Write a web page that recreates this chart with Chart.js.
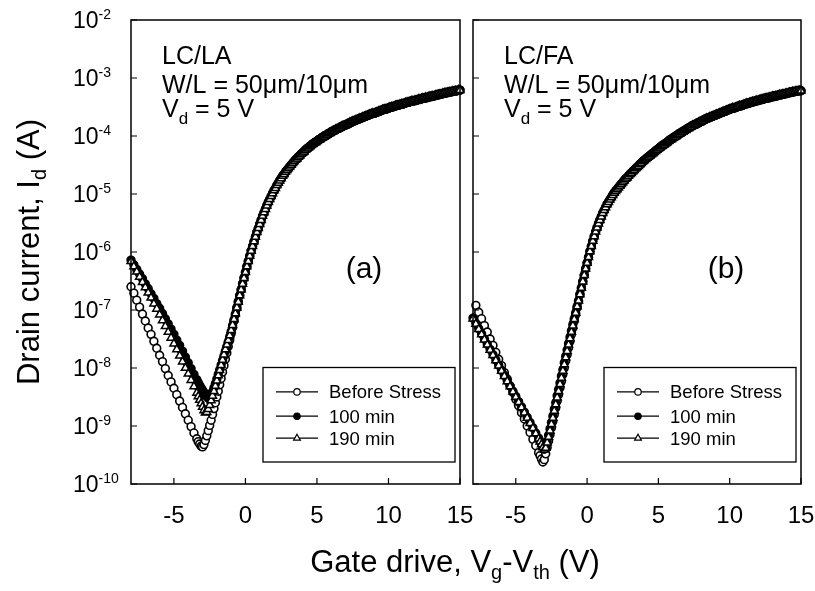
<!DOCTYPE html>
<html>
<head>
<meta charset="utf-8">
<script src="https://cdn.jsdelivr.net/npm/chart.js@4.4.1/dist/chart.umd.min.js"></script>
<style>
  body { margin: 0; background: #fff; }
  #wrap { position: relative; width: 815px; height: 591px; }
  #wrap canvas { position: absolute; left: 0; top: 0; }
</style>
</head>
<body>
<div id="wrap">
  <canvas id="chartA" width="815" height="591"></canvas>
  <canvas id="chartB" width="815" height="591"></canvas>
</div>
<script>
const FONT = '"Liberation Sans", Arial, sans-serif';

const seriesNames = ['Before Stress', '100 min', '190 min'];
const xTicks = [-5, 0, 5, 10, 15];
const yTickExps = [-10, -9, -8, -7, -6, -5, -4, -3, -2];

// gate drive grid where the three curves differ, then the shared on-state part
const vgSub = [-8.0, -7.8, -7.6, -7.4, -7.2, -7.0, -6.8, -6.6, -6.4, -6.2, -6.0, -5.8, -5.6, -5.4, -5.2, -5.0,
  -4.8, -4.6, -4.4, -4.2, -4.0, -3.8, -3.6, -3.4,
  -3.3, -3.2, -3.1, -3.0, -2.9, -2.8, -2.7, -2.6, -2.5, -2.4, -2.3, -2.2, -2.1, -2.0, -1.9, -1.8, -1.7,
  -1.6, -1.5, -1.4, -1.3, -1.2, -1.1, -1.0, -0.9, -0.8, -0.7, -0.6, -0.5, -0.4, -0.3, -0.2, -0.1, 0.0];
const vgOn = [0.1, 0.2, 0.3, 0.4, 0.5, 0.6, 0.7, 0.8, 0.9, 1.0, 1.1, 1.2, 1.3, 1.4, 1.5, 1.6, 1.7, 1.8, 1.9, 2.0,
  2.1, 2.2, 2.3, 2.4, 2.5, 2.6, 2.7, 2.8, 2.9, 3.0, 3.1, 3.2, 3.3, 3.4, 3.5, 3.6, 3.7, 3.8, 3.9, 4.0,
  4.1, 4.2, 4.3, 4.4, 4.5, 4.6, 4.7, 4.8, 4.9, 5.0, 5.1, 5.2, 5.3, 5.4, 5.5, 5.6, 5.7, 5.8, 5.9, 6.0,
  6.1, 6.2, 6.3, 6.4, 6.5, 6.6, 6.7, 6.8, 6.9, 7.0, 7.1, 7.2, 7.3, 7.4, 7.5, 7.6, 7.7, 7.8, 7.9, 8.0,
  8.1, 8.2, 8.3, 8.4, 8.5, 8.6, 8.7, 8.8, 8.9, 9.0, 9.1, 9.2, 9.3, 9.4, 9.5, 9.6, 9.7, 9.8, 9.9, 10.0,
  10.1, 10.2, 10.3, 10.4, 10.5, 10.6, 10.7, 10.8, 10.9, 11.0, 11.1, 11.2, 11.3, 11.4, 11.5, 11.6, 11.7, 11.8, 11.9, 12.0,
  12.1, 12.2, 12.3, 12.4, 12.5, 12.6, 12.7, 12.8, 12.9, 13.0, 13.1, 13.2, 13.3, 13.4, 13.5, 13.6, 13.7, 13.8, 13.9, 14.0,
  14.1, 14.2, 14.3, 14.4, 14.5, 14.6, 14.7, 14.8, 14.9, 15.0];

// log10 of drain current (A)
// (a) LC/LA
const logBeforeA = [-6.60, -6.71, -6.83, -6.95, -7.07, -7.19, -7.31, -7.42, -7.54, -7.66, -7.78, -7.89, -8.01,
  -8.13, -8.24, -8.35, -8.46, -8.57, -8.68, -8.79, -8.90, -9.01, -9.12, -9.22,
  -9.27, -9.31, -9.35, -9.36, -9.32, -9.25, -9.17, -9.08, -8.99, -8.90, -8.80, -8.70, -8.60, -8.50, -8.40,
  -8.29, -8.18, -8.07, -7.96, -7.85, -7.74, -7.63, -7.52, -7.41, -7.30, -7.19, -7.08, -6.97, -6.86, -6.75,
  -6.65, -6.55, -6.45, -6.35];
const log100A = [-6.14, -6.22, -6.30, -6.38, -6.46, -6.55, -6.63, -6.72, -6.80, -6.89, -6.97, -7.06, -7.15,
  -7.24, -7.33, -7.42, -7.52, -7.61, -7.71, -7.81, -7.91, -8.01, -8.11, -8.20,
  -8.25, -8.30, -8.34, -8.38, -8.42, -8.46, -8.49, -8.52, -8.51, -8.47, -8.41, -8.34, -8.27, -8.19, -8.11,
  -8.03, -7.95, -7.87, -7.79, -7.71, -7.63, -7.55, -7.46, -7.37, -7.27, -7.17, -7.07, -6.96, -6.86, -6.75,
  -6.65, -6.55, -6.45, -6.35];
const log190A = [-6.16, -6.25, -6.34, -6.43, -6.52, -6.61, -6.70, -6.79, -6.89, -6.98, -7.08, -7.18, -7.28,
  -7.38, -7.48, -7.58, -7.68, -7.79, -7.89, -8.00, -8.10, -8.21, -8.32, -8.43,
  -8.49, -8.55, -8.61, -8.67, -8.73, -8.77, -8.76, -8.71, -8.64, -8.56, -8.48, -8.40, -8.31, -8.22, -8.13,
  -8.04, -7.95, -7.86, -7.77, -7.68, -7.60, -7.52, -7.44, -7.35, -7.26, -7.16, -7.06, -6.96, -6.86, -6.75,
  -6.65, -6.55, -6.45, -6.35];
const logOnA = [-6.25, -6.16, -6.07, -5.98, -5.90, -5.82, -5.74, -5.66, -5.59, -5.52, -5.45, -5.38, -5.32,
  -5.26, -5.20, -5.14, -5.09, -5.04, -4.99, -4.94,
  -4.90, -4.85, -4.81, -4.77, -4.73, -4.69, -4.66, -4.62, -4.59, -4.56,
  -4.53, -4.50, -4.47, -4.44, -4.41, -4.39, -4.36, -4.34, -4.31, -4.29,
  -4.27, -4.24, -4.22, -4.20, -4.18, -4.16, -4.14, -4.12, -4.11, -4.09,
  -4.07, -4.06, -4.04, -4.02, -4.01, -3.99, -3.98, -3.96, -3.95, -3.93,
  -3.92, -3.91, -3.89, -3.88, -3.87, -3.86, -3.84, -3.83, -3.82, -3.81,
  -3.80, -3.79, -3.77, -3.76, -3.75, -3.74, -3.73, -3.72, -3.71, -3.70,
  -3.69, -3.68, -3.67, -3.66, -3.65, -3.64, -3.63, -3.62, -3.61, -3.61,
  -3.60, -3.59, -3.58, -3.57, -3.56, -3.55, -3.54, -3.54, -3.53, -3.52,
  -3.51, -3.50, -3.50, -3.49, -3.48, -3.47, -3.47, -3.46, -3.45, -3.45,
  -3.44, -3.43, -3.42, -3.42, -3.41, -3.40, -3.40, -3.39, -3.39, -3.38,
  -3.37, -3.37, -3.36, -3.35, -3.35, -3.34, -3.34, -3.33, -3.32, -3.32,
  -3.31, -3.31, -3.30, -3.29, -3.29, -3.28, -3.28, -3.27, -3.26, -3.26,
  -3.25, -3.25, -3.24, -3.24, -3.23, -3.23, -3.22, -3.22, -3.21, -3.21];

// (b) LC/FA
const logBeforeB = [null, -6.92, -7.04, -7.15, -7.27, -7.38, -7.50, -7.61, -7.73, -7.85, -7.96, -8.08, -8.19,
  -8.31, -8.42, -8.54, -8.65, -8.77, -8.88, -9.00, -9.11, -9.23, -9.34, -9.46,
  -9.51, -9.57, -9.62, -9.58, -9.48, -9.37, -9.26, -9.15, -9.03, -8.92, -8.80, -8.69, -8.57, -8.46, -8.34,
  -8.23, -8.11, -8.00, -7.88, -7.77, -7.65, -7.54, -7.42, -7.31, -7.19, -7.08, -6.96, -6.85, -6.73, -6.62,
  -6.51, -6.40, -6.29, -6.19];
const log100B = [-7.14, -7.23, -7.32, -7.41, -7.50, -7.59, -7.68, -7.77, -7.86, -7.95, -8.04, -8.13, -8.22,
  -8.31, -8.40, -8.49, -8.58, -8.67, -8.76, -8.85, -8.94, -9.03, -9.12, -9.21,
  -9.26, -9.31, -9.36, -9.40, -9.36, -9.27, -9.16, -9.05, -8.94, -8.83, -8.71, -8.60, -8.48, -8.37, -8.26,
  -8.14, -8.03, -7.91, -7.80, -7.69, -7.58, -7.47, -7.36, -7.25, -7.15, -7.05, -6.94, -6.84, -6.73, -6.62,
  -6.51, -6.40, -6.29, -6.19];
const log190B = [-7.15, -7.24, -7.33, -7.42, -7.51, -7.60, -7.69, -7.78, -7.87, -7.96, -8.05, -8.14, -8.23,
  -8.32, -8.41, -8.50, -8.59, -8.68, -8.77, -8.86, -8.95, -9.04, -9.13, -9.22,
  -9.27, -9.32, -9.37, -9.41, -9.38, -9.29, -9.19, -9.08, -8.97, -8.86, -8.74, -8.63, -8.51, -8.40, -8.28,
  -8.17, -8.05, -7.94, -7.82, -7.71, -7.60, -7.49, -7.38, -7.27, -7.16, -7.05, -6.94, -6.84, -6.73, -6.62,
  -6.51, -6.40, -6.29, -6.19];
const logOnB = [-6.09, -5.99, -5.90, -5.81, -5.73, -5.65, -5.58, -5.51, -5.45, -5.39, -5.33, -5.28, -5.23,
  -5.18, -5.14, -5.10, -5.06, -5.02, -4.98, -4.95,
  -4.92, -4.89, -4.86, -4.83, -4.80, -4.77, -4.74, -4.72, -4.69, -4.66,
  -4.64, -4.61, -4.59, -4.56, -4.54, -4.52, -4.49, -4.47, -4.44, -4.42,
  -4.40, -4.38, -4.36, -4.34, -4.32, -4.30, -4.28, -4.26, -4.24, -4.22,
  -4.20, -4.18, -4.16, -4.15, -4.13, -4.11, -4.09, -4.07, -4.06, -4.04,
  -4.02, -4.01, -3.99, -3.97, -3.96, -3.94, -3.93, -3.91, -3.90, -3.88,
  -3.87, -3.85, -3.84, -3.82, -3.81, -3.80, -3.79, -3.77, -3.76, -3.75,
  -3.74, -3.72, -3.71, -3.70, -3.69, -3.68, -3.67, -3.66, -3.65, -3.64,
  -3.63, -3.62, -3.61, -3.60, -3.59, -3.58, -3.57, -3.56, -3.55, -3.54,
  -3.53, -3.52, -3.52, -3.51, -3.50, -3.49, -3.48, -3.48, -3.47, -3.46,
  -3.45, -3.44, -3.44, -3.43, -3.42, -3.41, -3.41, -3.40, -3.39, -3.39,
  -3.38, -3.37, -3.37, -3.36, -3.35, -3.35, -3.34, -3.34, -3.33, -3.32,
  -3.32, -3.31, -3.31, -3.30, -3.29, -3.29, -3.28, -3.28, -3.27, -3.27,
  -3.26, -3.25, -3.25, -3.24, -3.24, -3.23, -3.23, -3.22, -3.22, -3.22];

const markerStyles = [
  { pointStyle: 'circle', pointRadius: 3.9, pointBorderWidth: 1.6, pointBackgroundColor: '#fff' },
  { pointStyle: 'circle', pointRadius: 3.9, pointBorderWidth: 1.6, pointBackgroundColor: '#000' },
  { pointStyle: 'triangle', pointRadius: 4.6, pointBorderWidth: 1.5, pointBackgroundColor: '#fff' }
];

function toPoints(logSub, logOn) {
  const xs = vgSub.concat(vgOn);
  const ls = logSub.concat(logOn);
  return xs.map(function (x, i) {
    return { x: x, y: ls[i] === null ? null : Math.pow(10, ls[i]) };
  });
}

function buildDatasets(subs, on) {
  return seriesNames.map(function (name, i) {
    return Object.assign({
      label: name,
      data: toPoints(subs[i], on),
      borderColor: '#000',
      borderWidth: 1.5,
      pointBorderColor: '#000',
      tension: 0,
      clip: false,
      order: 2 - i
    }, markerStyles[i]);
  });
}

// text with sub/superscripts: parts = [text, size, dy]
function rich(ctx, parts, x, y, align) {
  let w = 0;
  parts.forEach(function (p) {
    ctx.font = p[1] + 'px ' + FONT;
    w += ctx.measureText(p[0]).width;
  });
  let cx = align === 'center' ? x - w / 2 : (align === 'right' ? x - w : x);
  ctx.textAlign = 'left';
  ctx.textBaseline = 'alphabetic';
  parts.forEach(function (p) {
    ctx.font = p[1] + 'px ' + FONT;
    ctx.fillText(p[0], cx, y + (p[2] || 0));
    cx += ctx.measureText(p[0]).width;
  });
}

function decor(p) {
  return {
    id: 'decor' + p.tag,
    afterDatasetsDraw(chart) {
      const ctx = chart.ctx, a = chart.chartArea;
      const sx = chart.scales.x, sy = chart.scales.y;
      ctx.save();
      ctx.strokeStyle = '#000';
      ctx.fillStyle = '#000';
      ctx.lineWidth = 1.5;
      ctx.strokeRect(a.left, a.top, a.right - a.left, a.bottom - a.top);

      // inward ticks
      ctx.beginPath();
      xTicks.forEach(function (v) {
        const px = sx.getPixelForValue(v);
        ctx.moveTo(px, a.bottom);
        ctx.lineTo(px, a.bottom - 6);
      });
      yTickExps.forEach(function (e) {
        const py = sy.getPixelForValue(Math.pow(10, e));
        ctx.moveTo(a.left, py);
        ctx.lineTo(a.left + 6, py);
      });
      ctx.lineWidth = 1.2;
      ctx.stroke();

      xTicks.forEach(function (v) {
        rich(ctx, [[String(v), 24]], sx.getPixelForValue(v), 523, 'center');
      });

      if (p.axisText) {
        yTickExps.forEach(function (e) {
          const py = sy.getPixelForValue(Math.pow(10, e));
          rich(ctx, [['10', 23, 8], [String(e), 14, -1]], 73, py, 'left');
        });
        ctx.save();
        ctx.translate(28, 252);
        ctx.rotate(-Math.PI / 2);
        rich(ctx, [['Drain current, I', 31], ['d', 20, 7], [' (A)', 31]], 0, 11, 'center');
        ctx.restore();
        rich(ctx, [['Gate drive, V', 31], ['g', 20, 7], ['-V', 31], ['th', 20, 7], [' (V)', 31]], 455, 572, 'center');
      }

      // panel notes
      const nx = a.left + 31;
      rich(ctx, [[p.name, 25]], nx, 64, 'left');
      rich(ctx, [['W/L = 50\u03bcm/10\u03bcm', 25]], nx, 93, 'left');
      rich(ctx, [['V', 25], ['d', 17, 7], [' = 5 V', 25]], nx, 117, 'left');
      rich(ctx, [[p.letter, 30]], a.left + p.letterX, 278, 'center');

      // legend box
      const lw = 192, lh = 94.5;
      const lx = a.right - 5 - lw, ly = a.bottom - 22 - lh;
      ctx.lineWidth = 1.3;
      ctx.strokeRect(lx, ly, lw, lh);
      const rows = [24.4, 48.7, 70.7];
      chart.data.datasets.forEach(function (ds, i) {
        const y = ly + rows[i];
        ctx.beginPath();
        ctx.moveTo(lx + 13, y);
        ctx.lineTo(lx + 55, y);
        ctx.lineWidth = 1.2;
        ctx.strokeStyle = '#000';
        ctx.stroke();
        ctx.fillStyle = ds.pointBackgroundColor;
        ctx.lineWidth = 1.2;
        Chart.helpers.drawPoint(ctx, { pointStyle: ds.pointStyle, radius: ds.pointRadius - 0.7, borderWidth: 1.2, rotation: 0 }, lx + 34, y);
        ctx.fillStyle = '#000';
        rich(ctx, [[ds.label, 18.5]], lx + 66, y + 6.5, 'left');
      });
      ctx.restore();
    }
  };
}

function makeChart(id, datasets, p) {
  return new Chart(document.getElementById(id), {
    type: 'line',
    data: { datasets: datasets },
    options: {
      responsive: false,
      animation: false,
      events: [],
      layout: { padding: { left: 0, right: p.padRight, top: 20, bottom: 0 } },
      plugins: { legend: { display: false }, tooltip: { enabled: false } },
      scales: {
        x: {
          type: 'linear', min: -8, max: 15,
          grid: { display: false }, border: { display: false }, ticks: { display: false },
          afterFit: function (s) { s.height = 107; }
        },
        y: {
          type: 'logarithmic', min: 1e-10, max: 1e-2,
          grid: { display: false }, border: { display: false }, ticks: { display: false },
          afterFit: function (s) { s.width = p.axisWidth; }
        }
      }
    },
    plugins: [decor(p)]
  });
}

makeChart('chartA', buildDatasets([logBeforeA, log100A, log190A], logOnA),
  { tag: 'A', name: 'LC/LA', letter: '(a)', letterX: 233, axisWidth: 131, padRight: 355, axisText: true });
makeChart('chartB', buildDatasets([logBeforeB, log100B, log190B], logOnB),
  { tag: 'B', name: 'LC/FA', letter: '(b)', letterX: 253, axisWidth: 473, padRight: 14, axisText: false });
</script>
</body>
</html>
